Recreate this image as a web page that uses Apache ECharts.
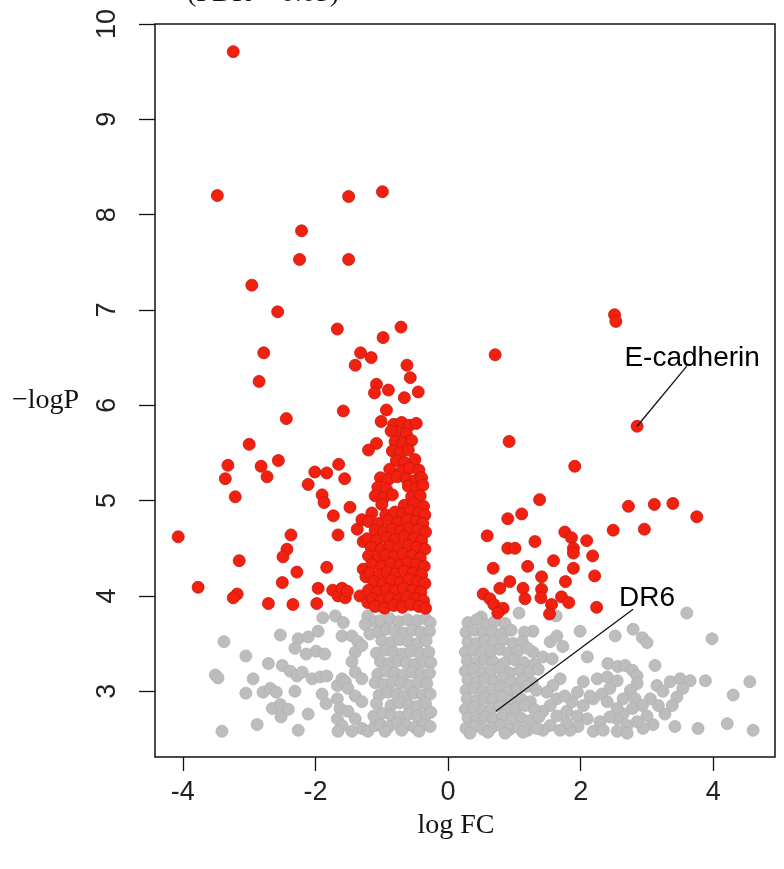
<!DOCTYPE html>
<html style="height: 100%; width:100%">
<head>
    <meta charset="utf-8">
</head>
<body style="height: 100%; width: 100%; margin: 0; background:#fff">
<div id="container" style="height: 869px;width:784px"></div>
<script type="text/javascript" src="https://cdn.jsdelivr.net/npm/echarts@6/dist/echarts.min.js"></script>
<script type="text/javascript">
// axis ticks
var xTicks = [-4, -2, 0, 2, 4];
var yTicks = [3, 4, 5, 6, 7, 8, 9, 10];

// significant genes (red) as [logFC, -logP]
var sigLeftSparse = [
    [-3.24,9.71],[-3.48,8.20],[-1.50,8.19],[-0.99,8.24],[-2.21,7.83],[-2.24,7.53],[-1.50,7.53],
    [-2.96,7.26],[-2.57,6.98],[-1.67,6.80],[-0.71,6.82],[-2.78,6.55],[-0.98,6.71],[-2.85,6.25],
    [-2.44,5.86],[-1.58,5.94],[-3.00,5.59],[-3.32,5.37],[-3.36,5.23],[-2.82,5.36],[-2.73,5.25],
    [-2.56,5.42],[-3.21,5.04],[-2.01,5.30],[-1.83,5.29],[-1.65,5.38],[-1.56,5.23],[-2.11,5.17],
    [-1.90,5.06],[-1.87,4.98],[-4.07,4.62],[-2.37,4.64],[-2.43,4.49],[-2.49,4.41],[-3.15,4.37],
    [-2.28,4.25],[-3.77,4.09],[-2.50,4.14],[-3.18,4.02],[-3.24,3.98],[-2.71,3.92],[-2.34,3.91],
    [-1.96,4.08],[-1.98,3.92],[-1.83,4.30],[-1.73,4.84],[-1.66,4.64],[-1.48,4.93],[-1.37,4.70],
    [-1.74,4.06],[-1.66,4.00],[-1.60,4.08],[-1.55,3.98],[-1.52,4.05],[-1.33,4.00],[-1.21,3.93],
    [-1.28,4.28],[-1.24,4.20],[-1.30,4.80],[-1.28,4.57],
    [-1.32,6.55],[-1.16,6.50],[-1.40,6.42],[-0.62,6.42],[-0.57,6.29],[-1.08,6.22],[-1.11,6.13],
    [-0.90,6.16],[-0.66,6.08],[-0.45,6.14],[-0.93,5.95],[-1.01,5.83],[-1.08,5.60],[-1.20,5.53]
];
var sigLeftCore = [
    [-0.82,5.80],[-0.70,5.82],[-0.58,5.79],[-0.48,5.81],[-0.76,5.72],[-0.63,5.70],[-0.86,5.73],
    [-0.80,5.62],[-0.68,5.60],[-0.55,5.63],[-0.84,5.52],[-0.72,5.50],[-0.60,5.53],
    [-0.78,5.42],[-0.66,5.40],[-0.50,5.43],[-0.88,5.33],[-0.70,5.31],[-0.58,5.34],[-0.44,5.32],
    [-1.02,5.24],[-0.90,5.22],[-0.77,5.25],[-0.63,5.23],[-0.50,5.21],[-0.40,5.24],
    [-1.06,5.14],[-0.93,5.12],[-0.60,5.15],[-0.48,5.13],[-0.38,5.16],
    [-1.10,5.05],[-0.97,5.03],[-0.84,5.06],[-0.55,5.04],[-0.42,5.05],
    [-1.00,4.96],[-0.66,4.95],[-0.52,4.97],[-0.37,4.94],
    [-1.15,4.87],[-0.94,4.85],[-0.80,4.88],[-0.69,4.86],[-0.57,4.89],[-0.45,4.87],[-0.35,4.85],
    [-1.20,4.78],[-1.05,4.76],[-0.90,4.79],[-0.76,4.77],[-0.62,4.80],[-0.49,4.78],[-0.38,4.76],
    [-1.10,4.69],[-0.97,4.67],[-0.84,4.70],[-0.71,4.68],[-0.58,4.71],[-0.46,4.69],[-0.34,4.67],
    [-1.22,4.60],[-1.08,4.58],[-0.93,4.61],[-0.80,4.59],[-0.66,4.62],[-0.52,4.60],[-0.40,4.58],
    [-1.16,4.51],[-1.01,4.49],[-0.88,4.52],[-0.74,4.50],[-0.60,4.53],[-0.47,4.51],[-0.35,4.49],
    [-1.20,4.42],[-1.06,4.40],[-0.94,4.43],[-0.81,4.41],[-0.68,4.44],[-0.55,4.42],[-0.42,4.40],
    [-1.15,4.33],[-1.00,4.31],[-0.86,4.34],[-0.73,4.32],[-0.61,4.35],[-0.48,4.33],[-0.36,4.31],
    [-1.18,4.24],[-1.04,4.22],[-0.92,4.25],[-0.79,4.23],[-0.66,4.26],[-0.53,4.24],[-0.40,4.22],
    [-1.12,4.15],[-0.98,4.13],[-0.85,4.16],[-0.72,4.14],[-0.59,4.17],[-0.46,4.15],[-0.35,4.13],
    [-1.20,4.06],[-1.06,4.04],[-0.93,4.07],[-0.80,4.05],[-0.67,4.08],[-0.54,4.06],[-0.41,4.04],
    [-1.14,3.97],[-1.01,3.95],[-0.88,3.98],[-0.75,3.96],[-0.62,3.99],[-0.49,3.97],[-0.37,3.95],
    [-1.10,3.89],[-0.96,3.87],[-0.82,3.90],[-0.69,3.88],[-0.56,3.91],[-0.44,3.89],[-0.34,3.87]
];
var sigRight = [
    [2.51,6.95],[2.53,6.88],[0.71,6.53],[2.85,5.78],[0.92,5.62],[1.91,5.36],[1.38,5.01],
    [2.72,4.94],[3.11,4.96],[3.39,4.97],[3.75,4.83],[0.90,4.81],[1.11,4.86],[2.49,4.69],
    [2.96,4.70],[0.59,4.63],[1.76,4.67],[1.86,4.61],[1.89,4.50],[1.89,4.45],[2.09,4.58],
    [2.18,4.42],[2.21,4.21],[0.90,4.50],[1.01,4.50],[1.31,4.57],[1.59,4.37],[1.89,4.29],
    [0.68,4.29],[1.20,4.31],[1.41,4.20],[1.77,4.15],[0.93,4.15],[0.78,4.08],[1.13,4.08],
    [1.41,4.07],[0.53,4.02],[0.63,3.97],[0.69,3.91],[0.83,3.87],[0.75,3.82],[1.16,3.97],
    [1.40,3.98],[1.56,3.91],[1.53,3.81],[1.71,3.99],[1.82,3.93],[2.24,3.88]
];

// non-significant genes (grey)
var nsLeftSparse = [
    [-3.38,3.52],[-3.51,3.17],[-3.47,3.14],[-3.05,3.37],[-2.53,3.59],[-2.71,3.29],[-2.94,3.13],
    [-3.05,2.98],[-2.50,3.27],[-3.41,2.58],[-2.88,2.65],[-2.26,2.59],[-2.11,2.76],[-2.31,3.00],
    [-2.79,2.99],[-2.68,3.03],[-2.59,2.99],[-2.65,2.82],[-2.53,2.86],[-2.41,2.81],[-2.52,2.73],
    [-2.38,3.21],[-2.28,3.16],[-2.20,3.20],[-2.26,3.55],[-2.11,3.57],[-1.96,3.63],[-2.31,3.45],
    [-2.14,3.39],[-1.99,3.42],[-1.86,3.39],[-2.05,3.13],[-1.93,3.15],[-1.83,3.16],[-1.90,2.97],
    [-1.84,2.87],[-1.89,3.77],[-1.70,3.79],[-1.58,3.72],[-1.67,3.06],[-1.60,3.13],[-1.67,2.92],
    [-1.63,2.82],[-1.67,2.71],[-1.60,2.64],[-1.66,2.58],[-1.51,2.79],[-1.40,2.71],[-1.30,2.61],
    [-1.45,2.58],[-1.21,2.58],[-1.10,2.64],[-1.60,3.58],[-1.45,3.58],[-1.36,3.52],[-1.40,3.41],
    [-1.45,3.31],[-1.40,3.20],[-1.30,3.13],[-1.55,3.10],[-1.51,3.03],[-1.40,2.95],[-1.30,2.89],
    [-1.21,3.79],[-1.10,3.73],[-1.25,3.70],[-1.18,3.60],[-1.30,3.48]
];
var nsLeftCore = [
    [-1.02,3.74],[-0.88,3.76],[-0.75,3.73],[-0.61,3.75],[-0.47,3.74],[-0.34,3.76],[-0.27,3.72],
    [-1.05,3.62],[-0.93,3.65],[-0.80,3.63],[-0.67,3.61],[-0.54,3.64],[-0.41,3.62],[-0.28,3.63],
    [-1.00,3.53],[-0.86,3.51],[-0.73,3.54],[-0.60,3.52],[-0.46,3.50],[-0.33,3.53],
    [-1.08,3.40],[-0.95,3.43],[-0.82,3.41],[-0.69,3.39],[-0.56,3.42],[-0.43,3.40],[-0.29,3.41],
    [-1.02,3.31],[-0.89,3.29],[-0.76,3.32],[-0.63,3.30],[-0.50,3.28],[-0.37,3.31],[-0.26,3.30],
    [-1.06,3.18],[-0.93,3.21],[-0.80,3.19],[-0.67,3.17],[-0.54,3.20],[-0.41,3.18],[-0.28,3.19],
    [-1.10,3.09],[-0.97,3.07],[-0.84,3.10],[-0.71,3.08],[-0.58,3.06],[-0.45,3.09],[-0.32,3.08],
    [-1.04,2.96],[-0.91,2.99],[-0.78,2.97],[-0.65,2.95],[-0.52,2.98],[-0.39,2.96],[-0.27,2.97],
    [-1.08,2.87],[-0.86,2.85],[-0.73,2.88],[-0.60,2.86],[-0.47,2.84],[-0.34,2.87],
    [-1.12,2.74],[-0.99,2.77],[-0.86,2.75],[-0.73,2.73],[-0.60,2.76],[-0.47,2.74],[-0.33,2.75],[-0.26,2.78],
    [-1.02,2.65],[-0.89,2.63],[-0.76,2.66],[-0.63,2.64],[-0.50,2.62],[-0.37,2.65],[-0.27,2.63],
    [-0.95,2.58],[-0.70,2.59],[-0.44,2.58]
];
var nsRightSparse = [
    [0.50,3.78],[1.07,3.82],[1.63,3.79],[3.60,3.82],[3.98,3.55],[1.99,3.63],[2.52,3.58],[2.79,3.65],
    [2.93,3.56],[3.00,3.51],[2.10,3.36],[2.41,3.29],[2.56,3.26],[2.67,3.27],[2.78,3.22],[2.85,3.16],
    [3.12,3.27],[3.88,3.11],[4.55,3.10],[4.30,2.96],[4.21,2.66],[4.60,2.59],[3.77,2.61],[3.42,2.63],
    [3.09,2.65],[2.94,2.61],[3.35,3.10],[3.50,3.13],[3.65,3.11],[3.54,3.03],[3.45,2.94],[3.38,2.85],
    [3.27,2.76],[3.17,2.85],[3.05,2.92],[3.15,3.06],[3.24,3.00],
    [2.85,3.08],[2.75,3.01],[2.64,2.92],[2.82,2.92],[2.93,2.85],[2.78,2.82],[2.64,2.76],[2.55,2.71],
    [2.70,2.64],[2.85,2.68],[3.00,2.74],
    [2.25,3.13],[2.40,3.15],[2.55,3.11],[2.44,3.03],[2.32,2.97],[2.19,2.92],[2.40,2.89],[2.55,2.82],
    [2.44,2.73],[2.29,2.68],[2.19,2.58],[2.34,2.59],[2.55,2.58],[2.70,2.56],
    [2.04,3.10],[1.95,2.99],[1.87,2.89],[1.79,2.79],[1.95,2.74],[2.04,2.85],[2.10,2.71],[1.96,2.63],
    [1.84,2.59],[2.14,2.95],
    [1.28,3.63],[1.54,3.52],[1.64,3.58],[1.73,3.47],[1.28,3.41],[1.43,3.36],[1.57,3.34],
    [1.69,3.13],[1.58,3.06],[1.49,2.99],[1.64,2.92],[1.76,2.95],[1.54,2.85],[1.43,2.79],[1.64,2.74],
    [1.79,2.67],[1.54,2.64],[1.69,2.59],[1.43,2.59]
];
var nsRightCore = [
    [0.30,3.72],[0.43,3.75],[0.57,3.70],[0.70,3.73],[0.86,3.71],
    [0.27,3.62],[0.40,3.64],[0.53,3.61],[0.66,3.63],[0.80,3.60],[0.95,3.64],[1.15,3.62],
    [0.30,3.52],[0.43,3.50],[0.56,3.53],[0.69,3.51],[0.83,3.54],[0.98,3.50],[1.12,3.52],
    [0.26,3.41],[0.39,3.43],[0.52,3.40],[0.65,3.42],[0.78,3.44],[0.91,3.40],[1.05,3.42],[1.20,3.45],
    [0.29,3.32],[0.42,3.30],[0.55,3.33],[0.68,3.31],[0.84,3.29],[1.00,3.33],[1.14,3.30],[1.30,3.28],
    [0.26,3.21],[0.39,3.23],[0.52,3.20],[0.65,3.22],[0.78,3.24],[0.93,3.19],[1.08,3.22],[1.22,3.20],[1.36,3.23],
    [0.30,3.12],[0.43,3.10],[0.56,3.13],[0.69,3.11],[0.82,3.14],[0.96,3.10],[1.12,3.12],[1.27,3.09],
    [0.27,3.01],[0.40,3.03],[0.53,3.00],[0.66,3.02],[0.79,3.04],[0.92,3.00],[1.04,3.02],[1.18,3.05],[1.33,3.01],
    [0.29,2.92],[0.42,2.90],[0.55,2.93],[0.68,2.91],[0.81,2.94],[0.95,2.90],[1.10,2.92],[1.24,2.89],
    [0.26,2.81],[0.39,2.83],[0.52,2.80],[0.65,2.82],[0.78,2.84],[0.90,2.80],[1.02,2.82],[1.16,2.85],[1.30,2.81],
    [0.30,2.72],[0.43,2.70],[0.56,2.73],[0.69,2.71],[0.82,2.74],[0.96,2.70],[1.10,2.72],[1.23,2.69],[1.37,2.73],
    [0.27,2.61],[0.40,2.63],[0.53,2.60],[0.66,2.62],[0.79,2.64],[0.93,2.60],[1.06,2.62],[1.20,2.59],[1.34,2.61],
    [0.33,2.56],[0.60,2.57],[0.86,2.56],[1.13,2.57]
];

// labelled genes: text position and leader line (label end -> point)
var geneNames = ['E-cadherin', 'DR6'];
var geneLabelPos = [[3.68, 6.49], [3.00, 3.98]];
var geneLeaders = [[[3.60, 6.41], [2.85, 5.78]], [[2.79, 3.86], [0.72, 2.79]]];

var dom = document.getElementById("container");
var myChart = echarts.init(dom, null, {renderer: 'canvas'});

var redStyle = {color: '#f2200f', borderColor: '#c8150c', borderWidth: 0.8, opacity: 1};
var greyStyle = {color: '#bdbdbd', borderColor: '#b0b0b0', borderWidth: 0.8, opacity: 1};

function pts(name, data, style) {
    return {
        name: name, type: 'scatter', data: data, symbolSize: 12,
        itemStyle: style, silent: true, animation: false
    };
}

var series = [
    pts('ns', nsLeftSparse, greyStyle),
    pts('ns', nsLeftCore, greyStyle),
    pts('ns', nsRightSparse, greyStyle),
    pts('ns', nsRightCore, greyStyle),
    pts('sig', sigLeftSparse, redStyle),
    pts('sig', sigLeftCore, redStyle),
    pts('sig', sigRight, redStyle)
];
geneLeaders.forEach(function (seg) {
    series.push({
        type: 'line', data: seg, symbol: 'none', silent: true, animation: false,
        lineStyle: {color: '#111', width: 1.3}
    });
});
series.push({
    type: 'scatter', symbolSize: 0, silent: true, animation: false,
    data: geneNames.map(function (n, i) {
        return {name: n, value: geneLabelPos[i]};
    }),
    label: {
        show: true, position: 'inside', formatter: '{b}',
        fontFamily: 'Liberation Sans', fontSize: 28, color: '#000', opacity: 1
    }
});

var axisFont = {fontFamily: 'Liberation Sans', fontSize: 27, color: '#222'};

var option = {
    backgroundColor: '#fff',
    grid: {
        left: 155, right: 9, top: 24, bottom: 112,
        show: true, borderColor: '#111', borderWidth: 1.5,
        outerBoundsMode: 'none'
    },
    xAxis: {
        type: 'value', min: -4.42, max: 4.93,
        axisLine: {show: false, onZero: false},
        splitLine: {show: false},
        axisTick: {show: true, length: 14, customValues: xTicks, lineStyle: {color: '#111', width: 1.3}},
        axisLabel: Object.assign({margin: 22, customValues: xTicks}, axisFont)
    },
    yAxis: {
        type: 'value', min: 2.31, max: 10,
        axisLine: {show: false, onZero: false},
        splitLine: {show: false},
        axisTick: {show: true, length: 16, customValues: yTicks, lineStyle: {color: '#111', width: 1.3}},
        axisLabel: Object.assign({margin: 34, rotate: 90, customValues: yTicks}, axisFont)
    },
    graphic: [
        {type: 'text', x: 263, y: -6, silent: true,
            style: {text: '(FDR < 0.05)', fontFamily: 'Liberation Serif', fontSize: 28, fill: '#111',
                align: 'center', verticalAlign: 'middle'}},
        {type: 'text', x: 12, y: 401, silent: true,
            style: {text: '\u2212logP', fontFamily: 'Liberation Serif', fontSize: 28, fill: '#111',
                align: 'left', verticalAlign: 'middle'}},
        {type: 'text', x: 456, y: 826, silent: true,
            style: {text: 'log FC', fontFamily: 'Liberation Serif', fontSize: 28, fill: '#111',
                align: 'center', verticalAlign: 'middle'}}
    ],
    series: series
};
myChart.setOption(option, true);
</script>
</body>
</html>
